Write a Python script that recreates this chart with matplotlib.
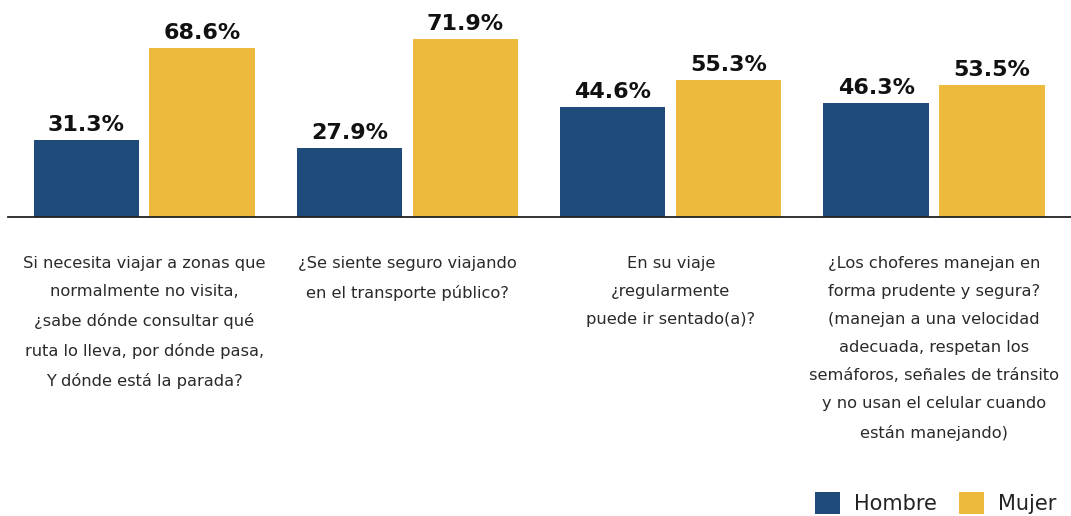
import matplotlib
matplotlib.use("Agg")
import matplotlib.pyplot as plt
import numpy as np

categories = [
    "Si necesita viajar a zonas que\nnormalmente no visita,\n¿sabe dónde consultar qué\nruta lo lleva, por dónde pasa,\nY dónde está la parada?",
    "¿Se siente seguro viajando\nen el transporte público?",
    "En su viaje\n¿regularmente\npuede ir sentado(a)?",
    "¿Los choferes manejan en\nforma prudente y segura?\n(manejan a una velocidad\nadecuada, respetan los\nsemáforos, señales de tránsito\ny no usan el celular cuando\nestán manejando)",
]
hombre = [31.3, 27.9, 44.6, 46.3]
mujer = [68.6, 71.9, 55.3, 53.5]
series_names = ["Hombre", "Mujer"]

color_hombre = "#1F4B7A"
color_mujer = "#EEBA3E"
FONT = "DejaVu Sans"

plt.rcParams["font.family"] = [FONT]
plt.rcParams["font.sans-serif"] = [FONT]

W, H, DPI = 1071, 516, 100
fig = plt.figure(figsize=(W / DPI, H / DPI), dpi=DPI)

# axes occupy the band above the baseline
ax_left, ax_right = 8, 1071
ax_top, ax_base = 0, 217
ax = fig.add_axes([ax_left / W, 1 - ax_base / H, (ax_right - ax_left) / W, (ax_base - ax_top) / H])

x = np.arange(len(categories))
width = 0.40
offset = 0.22
b1 = ax.bar(x - offset, hombre, width, color=color_hombre, label=series_names[0])
b2 = ax.bar(x + offset, mujer, width, color=color_mujer, label=series_names[1])

ax.set_xlim(-0.517, 3.52)
ax.set_ylim(0, 87.9)

for bars, vals in ((b1, hombre), (b2, mujer)):
    for rect, v in zip(bars, vals):
        ax.annotate(f"{v:.1f}%", (rect.get_x() + rect.get_width() / 2, v),
                    xytext=(0, 5), textcoords="offset pixels",
                    ha="center", va="bottom", fontsize=16, fontweight="bold",
                    color="#111111", family=FONT)

for s in ("top", "right", "left"):
    ax.spines[s].set_visible(False)
ax.spines["bottom"].set_color("#222222")
ax.spines["bottom"].set_linewidth(1.3)
ax.set_yticks([])
ax.set_xticks([])

# category questions below the baseline
for xi, label in zip(x, categories):
    ax.annotate(label, (xi, 0), xytext=(0, -39), textcoords="offset pixels",
                ha="center", va="top", fontsize=11.7, color="#2a2a2a",
                linespacing=2.08, annotation_clip=False, family=FONT)

fig.legend(handles=[b1, b2], labels=series_names, loc="center left",
           bbox_to_anchor=(815 / W, 1 - 503 / H), ncol=2, frameon=False,
           prop={"family": FONT, "size": 15}, handlelength=1.2, handleheight=1.2,
           handletextpad=0.65, columnspacing=1.1, borderpad=0,
           borderaxespad=0, labelcolor="#222222")

fig.savefig("out.png", dpi=DPI, facecolor="white")
